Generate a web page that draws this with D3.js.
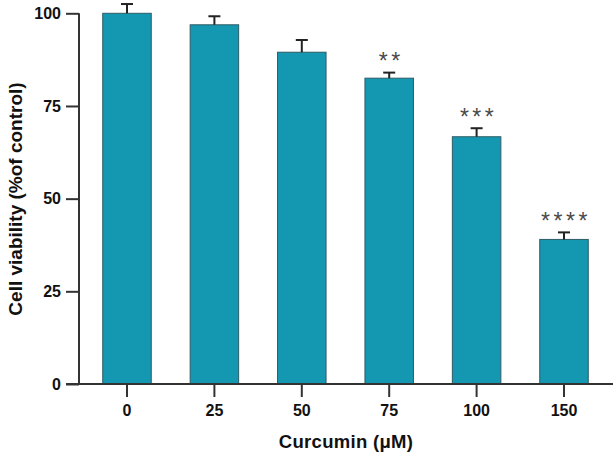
<!DOCTYPE html>
<html>
<head>
<meta charset="utf-8">
<script src="https://cdn.jsdelivr.net/npm/d3@7"></script>
<style>
  body { margin: 0; background: #fff; }
  svg text { font-family: "Liberation Sans", Arial, sans-serif; }
</style>
</head>
<body>
<svg id="chart" width="615" height="454"></svg>
<script>
// data
let doses = ["0", "25", "50", "75", "100", "150"];
let viability = [100, 96.9, 89.5, 82.5, 66.7, 39.0];
let errors = [2.5, 2.3, 3.3, 1.5, 2.3, 1.9];
let stars = ["", "", "", "**", "***", "****"];
let yTicks = [0, 25, 50, 75, 100];

let svg = d3.select("#chart");

let plotTop = 13.3, plotBottom = 384;
let axisX = 79;

let y = d3.scaleLinear()
  .domain([0, 100])
  .range([plotBottom, plotTop]);

let x = d3.scaleBand()
  .domain(doses)
  .range([83.3, 607.7])
  .paddingInner(0.445)
  .paddingOuter(0.2225);

// bars
svg.append("g").selectAll("rect")
  .data(doses)
  .enter().append("rect")
  .attr("x", d => x(d))
  .attr("y", (d, i) => y(viability[i]))
  .attr("width", x.bandwidth())
  .attr("height", (d, i) => plotBottom - y(viability[i]))
  .attr("fill", "#1497b1")
  .attr("stroke", "#2d5c66")
  .attr("stroke-width", 1);

// error bars (upper only)
let eb = svg.append("g").attr("stroke", "#222").attr("stroke-width", 2);
doses.forEach(function(d, i) {
  let cx = x(d) + x.bandwidth() / 2;
  eb.append("line")
    .attr("x1", cx).attr("x2", cx)
    .attr("y1", y(viability[i])).attr("y2", y(viability[i] + errors[i]));
  eb.append("line")
    .attr("x1", cx - 6).attr("x2", cx + 6)
    .attr("y1", y(viability[i] + errors[i])).attr("y2", y(viability[i] + errors[i]));
});

// significance stars
svg.append("g").selectAll("text")
  .data(doses)
  .enter().append("text")
  .attr("x", d => x(d) + x.bandwidth() / 2 + 2)
  .attr("y", (d, i) => y(viability[i] + errors[i]) - 3.5)
  .attr("text-anchor", "middle")
  .style("font-size", "23px")
  .style("letter-spacing", "3.5px")
  .attr("fill", "#4a4a4a")
  .text((d, i) => stars[i]);

// y axis
let yAxis = d3.axisLeft(y).tickValues(yTicks).tickSize(13).tickPadding(5);
let yG = svg.append("g")
  .attr("transform", "translate(" + axisX + ",0)")
  .call(yAxis);
yG.select(".domain").remove();
yG.append("line")
  .attr("x1", 0).attr("x2", 0)
  .attr("y1", plotTop).attr("y2", plotBottom)
  .attr("stroke", "#333").attr("stroke-width", 2);
yG.selectAll(".tick line").attr("stroke", "#333").attr("stroke-width", 2);
yG.selectAll(".tick text")
  .attr("fill", "#111")
  .style("font-size", "16px")
  .style("font-weight", "bold")
  .style("font-family", "Liberation Sans, Arial, sans-serif");

// x axis
let xAxis = d3.axisBottom(x).tickSize(13).tickPadding(8);
let xG = svg.append("g")
  .attr("transform", "translate(0," + plotBottom + ")")
  .call(xAxis);
xG.select(".domain").remove();
xG.append("line")
  .attr("x1", 66).attr("x2", 613)
  .attr("y1", 0).attr("y2", 0)
  .attr("stroke", "#333").attr("stroke-width", 2);
xG.selectAll(".tick line").attr("stroke", "#333").attr("stroke-width", 2);
xG.selectAll(".tick text")
  .attr("fill", "#111")
  .style("font-size", "16px")
  .style("font-weight", "bold")
  .style("font-family", "Liberation Sans, Arial, sans-serif");

// axis titles
svg.append("text")
  .attr("x", 346)
  .attr("y", 448)
  .attr("text-anchor", "middle")
  .style("font-size", "18.5px")
  .style("font-weight", "bold")
  .style("letter-spacing", "0.3px")
  .attr("fill", "#111")
  .text("Curcumin (μM)");

svg.append("text")
  .attr("transform", "translate(21.5,199) rotate(-90)")
  .attr("text-anchor", "middle")
  .style("font-size", "19px")
  .style("font-weight", "bold")
  .attr("fill", "#111")
  .text("Cell viability (%of control)");
</script>
</body>
</html>
